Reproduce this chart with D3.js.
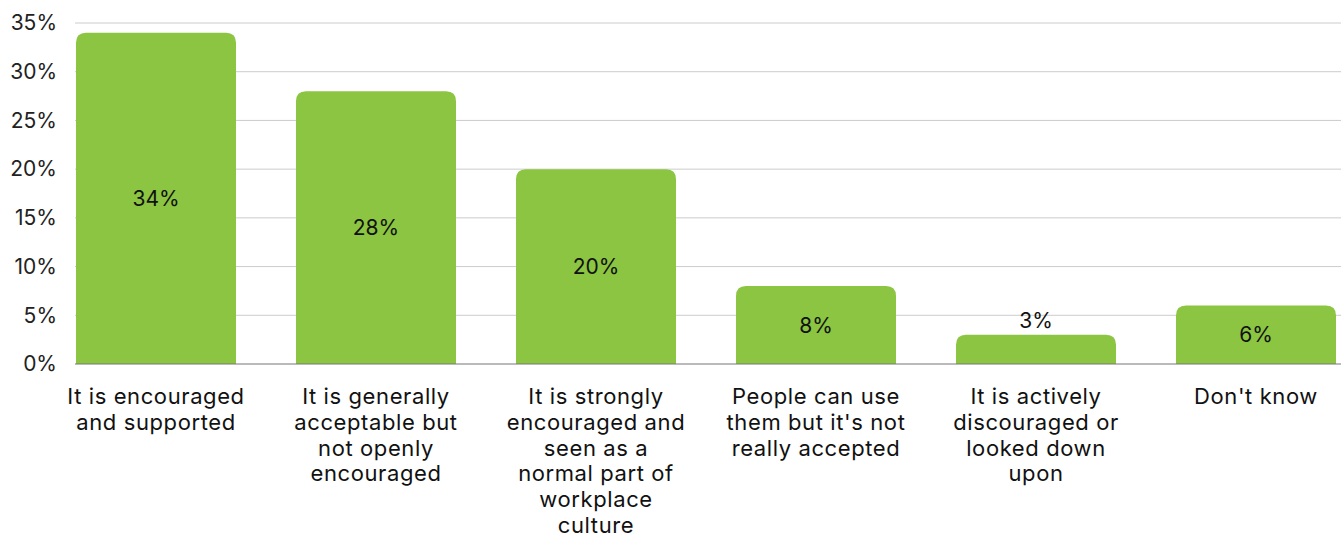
<!DOCTYPE html>
<html>
<head>
<meta charset="utf-8">
<script src="https://cdn.jsdelivr.net/npm/d3@7"></script>
<style>
  html, body { margin: 0; padding: 0; background: #fff; }
  svg { display: block; font-family: Inter, "Liberation Sans", sans-serif; }
</style>
</head>
<body>
<svg id="chart" width="1341" height="538"></svg>
<script>
// Survey responses: how is the use of these tools viewed at work
const categories = [
  "It is encouraged\nand supported",
  "It is generally\nacceptable but\nnot openly\nencouraged",
  "It is strongly\nencouraged and\nseen as a\nnormal part of\nworkplace\nculture",
  "People can use\nthem but it's not\nreally accepted",
  "It is actively\ndiscouraged or\nlooked down\nupon",
  "Don't know"
];
const values = [34, 28, 20, 8, 3, 6];
const yTicks = [0, 5, 10, 15, 20, 25, 30, 35];

const width = 1341, height = 538;
const svg = d3.select("#chart");

const gridLeft = 75, gridRight = 1341;
const y = d3.scaleLinear().domain([0, 35]).range([364, 23]);
const x = d3.scaleBand()
  .domain(categories)
  .range([46, 1366])
  .paddingInner(60 / 220)
  .paddingOuter(30 / 220);

const fmt = v => v + "%";

// Horizontal gridlines
svg.append("g")
  .selectAll("line")
  .data(yTicks.filter(t => t > 0))
  .join("line")
  .attr("x1", gridLeft).attr("x2", gridRight)
  .attr("y1", d => y(d)).attr("y2", d => y(d))
  .attr("stroke", "#cccccc").attr("stroke-width", 1);

// Y axis labels
const yAxis = d3.axisLeft(y).tickValues(yTicks).tickFormat(fmt).tickSize(0).tickPadding(0);
const gy = svg.append("g").attr("transform", "translate(57,0)").call(yAxis);
gy.select(".domain").remove();
gy.selectAll("text")
  .attr("font-size", 21)
  .attr("font-family", "Inter, 'Liberation Sans', sans-serif")
  .attr("fill", "#222");

// Bars with rounded top corners
const r = 10;
function barPath(d, i) {
  const x0 = x(categories[i]), w = x.bandwidth();
  const yt = y(d), yb = y(0);
  const rr = Math.min(r, (yb - yt));
  return `M${x0},${yb}V${yt + rr}Q${x0},${yt} ${x0 + rr},${yt}H${x0 + w - rr}Q${x0 + w},${yt} ${x0 + w},${yt + rr}V${yb}Z`;
}
svg.append("g")
  .selectAll("path")
  .data(values)
  .join("path")
  .attr("d", barPath)
  .attr("fill", "#8bc541");

// Baseline
svg.append("line")
  .attr("x1", gridLeft).attr("x2", gridRight)
  .attr("y1", y(0)).attr("y2", y(0))
  .attr("stroke", "#777").attr("stroke-width", 1);

// Value labels: centred inside the bar, above it when the bar is too short
svg.append("g")
  .selectAll("text")
  .data(values)
  .join("text")
  .attr("x", (d, i) => x(categories[i]) + x.bandwidth() / 2)
  .attr("y", d => {
    const h = y(0) - y(d);
    return h < 35 ? y(d) - 14 : (y(d) + y(0)) / 2;
  })
  .attr("text-anchor", "middle")
  .attr("dominant-baseline", "central")
  .attr("font-size", 21)
  .attr("fill", "#111")
  .text(fmt);

// Category labels (multi-line)
const xl = svg.append("g")
  .selectAll("text")
  .data(categories)
  .join("text")
  .attr("text-anchor", "middle")
  .attr("font-size", 22)
  .attr("letter-spacing", 0.6)
  .attr("fill", "#111")
  .attr("transform", d => `translate(${x(d) + x.bandwidth() / 2},404)`);
xl.selectAll("tspan")
  .data(d => d.split("\n"))
  .join("tspan")
  .attr("x", 0)
  .attr("y", (d, i) => i * 25.8)
  .text(d => d);
</script>
</body>
</html>
